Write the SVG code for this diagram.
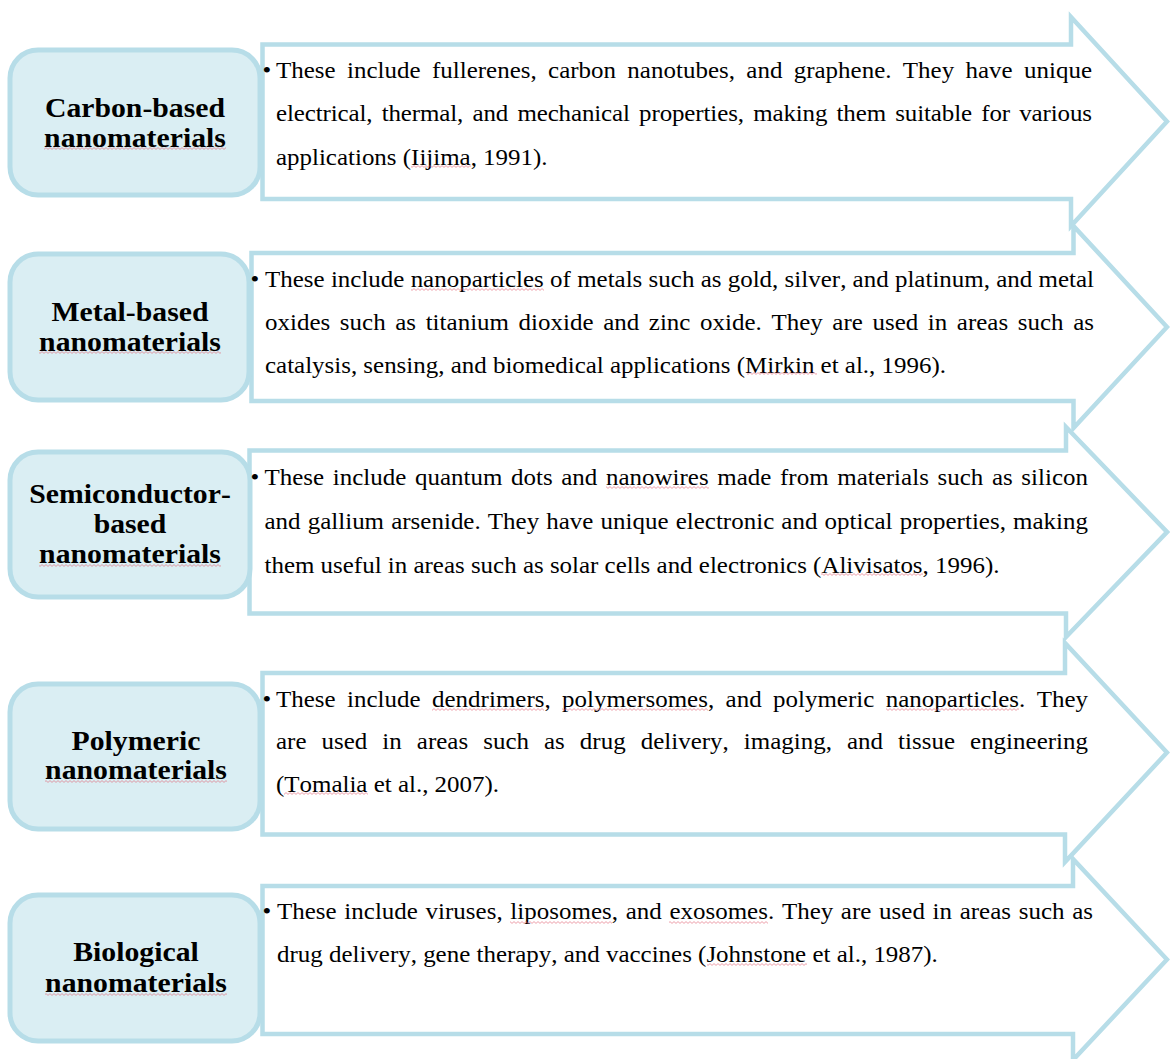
<svg xmlns="http://www.w3.org/2000/svg" width="1170" height="1059" viewBox="0 0 1170 1059">
<defs>
<pattern id="sqp" width="4" height="3" patternUnits="userSpaceOnUse">
<path d="M0,2.4 L2,0.6 L4,2.4" fill="none" stroke="#e06070" stroke-width="0.8" stroke-opacity="0.75"/>
</pattern>
<style>
.box{fill:#daeef3;stroke:#b7dde8;stroke-width:5}
.arr{fill:#ffffff;stroke:#b7dde8;stroke-width:4.5;stroke-linejoin:miter;stroke-miterlimit:10}
.t{font-family:"Liberation Serif","Times New Roman",serif;font-weight:bold;font-size:27.3px;text-anchor:middle;fill:#000;font-kerning:none}
.b{font-family:"Liberation Serif","Times New Roman",serif;font-size:22.9px;fill:#000;font-kerning:none}
.bu{font-family:"Liberation Serif","Times New Roman",serif;font-size:22.9px;fill:#000;text-anchor:middle}
.sq{fill:url(#sqp)}
</style>
</defs>
<rect width="1170" height="1059" fill="#ffffff"/>

<g id="carbon">
<path class="arr" d="M262.5,44.5 H1071 V17 L1167,121.5 L1071,226 V199 H262.5 Z"/>
<rect class="box" x="10" y="50" width="250" height="145" rx="28"/>
<g transform="scale(1.09,1)">
<text class="t" x="123.85" y="116.7">Carbon-based</text>
<text class="t" x="123.85" y="146.7">nanomaterials</text>
<text class="bu" x="244.95" y="78">•</text>
<text class="b" x="253.21" y="78" textLength="748.62" lengthAdjust="spacing" word-spacing="4.62">These include fullerenes, carbon nanotubes, and graphene. They have unique</text>
<text class="b" x="253.21" y="121.5" textLength="748.62" lengthAdjust="spacing" word-spacing="2.86">electrical, thermal, and mechanical properties, making them suitable for various</text>
<text class="b" x="253.21" y="165">applications (Iijima, 1991).</text>
</g>
<rect class="sq" x="44" y="147" width="182" height="3"/>
<rect class="sq" x="411" y="165" width="60" height="3"/>
</g>

<g id="metal">
<path class="arr" d="M251.5,253 H1073.5 V226 L1167,327 L1073.5,428 V401 H251.5 Z"/>
<rect class="box" x="10" y="254" width="239" height="146" rx="28"/>
<g transform="scale(1.09,1)">
<text class="t" x="119.27" y="320.7">Metal-based</text>
<text class="t" x="119.27" y="350.7">nanomaterials</text>
<text class="bu" x="233.94" y="287">•</text>
<text class="b" x="243.12" y="287" textLength="760.55" lengthAdjust="spacing">These include nanoparticles of metals such as gold, silver, and platinum, and metal</text>
<text class="b" x="243.12" y="330" textLength="760.55" lengthAdjust="spacing" word-spacing="3.03">oxides such as titanium dioxide and zinc oxide. They are used in areas such as</text>
<text class="b" x="243.12" y="373">catalysis, sensing, and biomedical applications (Mirkin et al., 1996).</text>
</g>
<rect class="sq" x="39" y="351" width="182" height="3"/>
<rect class="sq" x="411" y="288" width="133" height="3"/>
<rect class="sq" x="747" y="372" width="70" height="3"/>
</g>

<g id="semiconductor">
<path class="arr" d="M249.5,450.5 H1066 V427 L1167,532 L1066,637 V613.5 H249.5 Z"/>
<rect class="box" x="10" y="452" width="240" height="145" rx="28"/>
<g transform="scale(1.09,1)">
<text class="t" x="119.27" y="502.7">Semiconductor-</text>
<text class="t" x="119.27" y="532.7">based</text>
<text class="t" x="119.27" y="563.3">nanomaterials</text>
<text class="bu" x="233.94" y="485">•</text>
<text class="b" x="242.66" y="485" textLength="755.5" lengthAdjust="spacing" word-spacing="2.14">These include quantum dots and nanowires made from materials such as silicon</text>
<text class="b" x="242.66" y="529" textLength="755.5" lengthAdjust="spacing" word-spacing="0.77">and gallium arsenide. They have unique electronic and optical properties, making</text>
<text class="b" x="242.66" y="573">them useful in areas such as solar cells and electronics (Alivisatos, 1996).</text>
</g>
<rect class="sq" x="39" y="564" width="182" height="3"/>
<rect class="sq" x="606" y="486" width="103" height="3"/>
<rect class="sq" x="821" y="573" width="102" height="3"/>
</g>

<g id="polymeric">
<path class="arr" d="M262.5,673 H1065 V643 L1167,752.5 L1065,862 V834.5 H262.5 Z"/>
<rect class="box" x="10" y="684" width="250" height="145" rx="28"/>
<g transform="scale(1.09,1)">
<text class="t" x="124.77" y="750">Polymeric</text>
<text class="t" x="124.77" y="779.3">nanomaterials</text>
<text class="bu" x="244.95" y="707">•</text>
<text class="b" x="253.21" y="707" textLength="744.95" lengthAdjust="spacing" word-spacing="4.68">These include dendrimers, polymersomes, and polymeric nanoparticles. They</text>
<text class="b" x="253.21" y="749.5" textLength="744.95" lengthAdjust="spacing" word-spacing="8.03">are used in areas such as drug delivery, imaging, and tissue engineering</text>
<text class="b" x="253.21" y="792">(Tomalia et al., 2007).</text>
</g>
<rect class="sq" x="45" y="780" width="182" height="3"/>
<rect class="sq" x="432" y="708" width="112" height="3"/>
<rect class="sq" x="562" y="708" width="146" height="3"/>
<rect class="sq" x="886" y="708" width="133" height="3"/>
<rect class="sq" x="284" y="792" width="84" height="3"/>
</g>

<g id="biological">
<path class="arr" d="M262.5,886 H1073 V859 L1167,959.5 L1073,1060 V1034 H262.5 Z"/>
<rect class="box" x="10" y="895" width="250" height="146" rx="28"/>
<g transform="scale(1.09,1)">
<text class="t" x="124.77" y="960.7">Biological</text>
<text class="t" x="124.77" y="991.7">nanomaterials</text>
<text class="bu" x="244.95" y="919.5">•</text>
<text class="b" x="254.13" y="919.5" textLength="748.62" lengthAdjust="spacing" word-spacing="1.29">These include viruses, liposomes, and exosomes. They are used in areas such as</text>
<text class="b" x="254.13" y="962">drug delivery, gene therapy, and vaccines (Johnstone et al., 1987).</text>
</g>
<rect class="sq" x="45" y="993" width="182" height="3"/>
<rect class="sq" x="510" y="921" width="102" height="3"/>
<rect class="sq" x="669" y="921" width="99" height="3"/>
<rect class="sq" x="707" y="963" width="100" height="3"/>
</g>

<g id="connectors"></g>
</svg>
